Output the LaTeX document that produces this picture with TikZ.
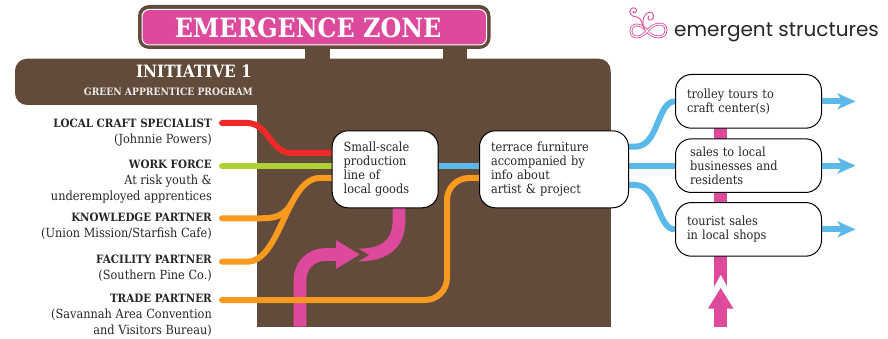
\documentclass[tikz,border=0pt]{standalone}
\usepackage{fontspec}
\setmainfont{DejaVu Serif Condensed}
\newfontfamily\logofont{Poppins}
\usetikzlibrary{positioning,calc,arrows.meta,backgrounds}
\definecolor{zonebrown}{HTML}{624B3A}
\definecolor{zonepink}{HTML}{DE4A9B}
\definecolor{zoneorange}{HTML}{F79A1D}
\definecolor{zonered}{HTML}{EE2A29}
\definecolor{zonegreen}{HTML}{AFD136}
\definecolor{zoneblue}{HTML}{5AB9E9}
\newcommand{\rolename}[1]{{\fontsize{11.5}{16}\bfseries\selectfont #1}}
\tikzset{
	role/.style={anchor=north east,align=right,inner sep=0pt,font=\fontsize{12.6}{16}\selectfont,text=black!85},
	stepbox/.style={draw=black,line width=1pt,fill=white,rounded corners=16pt,align=left,text=black!85,font=\fontsize{12.6}{14}\selectfont,inner xsep=#1,inner ysep=0pt,anchor=north west},
	feed/.style={line width=6pt,line cap=round},
	flow/.style={line width=6pt,zoneblue},
	bar/.style={line width=12.7pt,zonepink},
	exit/.style={flow,-{Stealth[length=18pt,width=16pt,inset=5pt]}},
	logoline/.style={zonepink,line width=.9pt}
}
\begin{document}
\begin{tikzpicture}[x=1pt,y=-1pt]
	\useasboundingbox (0,0) rectangle (888,339);
	% boxes
	\node[stepbox=11.5pt,text width=83pt,minimum height=77pt] (goods) at (331.7,130.3) {Small-scale\\production\\line of\\local goods};
	\node[stepbox=11.5pt,text width=126pt,minimum height=77pt] (furniture) at (479,130.3) {terrace furniture\\accompanied by\\info about\\artist \& project};
	\node[stepbox=11.5pt,text width=123pt,minimum height=53.7pt] (trolley) at (675,74) {trolley tours to\\craft center(s)};
	\node[stepbox=14.5pt,text width=117pt,minimum height=53.7pt] (sales) at (675,138.3) {sales to local\\businesses and\\residents};
	\node[stepbox=11.5pt,text width=123pt,minimum height=53.7pt] (tourist) at (675,202) {tourist sales\\in local shops};
	% labels
	\node[role] (craft) at (212,118.3) {\rolename{LOCAL CRAFT SPECIALIST}\\(Johnnie Powers)};
	\node[role] (work) at (212,159.3) {\rolename{WORK FORCE}\\At risk youth \&\\underemployed apprentices};
	\node[role] (knowledge) at (212,212.3) {\rolename{KNOWLEDGE PARTNER}\\(Union Mission/Starfish Cafe)};
	\node[role] (facility) at (212,254.3) {\rolename{FACILITY PARTNER}\\(Southern Pine Co.)};
	\node[role] (trade) at (212,294.3) {\rolename{TRADE PARTNER}\\(Savannah Area Convention\\and Visitors Bureau)};
	\node[text=white,font=\fontsize{26.5}{27}\bfseries\selectfont,inner sep=0pt] (zone) at (308,27.5) {EMERGENCE ZONE};
	\node[text=white,font=\fontsize{17}{17}\bfseries\selectfont,inner sep=0pt,anchor=north east] (initiative) at (252,65) {INITIATIVE 1};
	\node[text=white!92!black,font=\fontsize{10.2}{12}\bfseries\selectfont,inner sep=0pt,anchor=north east] (program) at (253,87.5) {GREEN APPRENTICE PROGRAM};
	\node[font=\logofont\fontsize{20}{20}\selectfont,inner sep=0pt,text=black!85,anchor=west] (logo) at (674,32) {emergent structures};
	% free ends
	\coordinate (craftend) at (222,123);
	\coordinate (workend) at (222,166);
	\coordinate (knowledgeend) at (222,218.3);
	\coordinate (facilityend) at (222,261.7);
	\coordinate (tradeend) at (222,300);
	\coordinate (riserfoot) at (300,326.7);
	\coordinate (risertip) at (360,254.5);
	\coordinate (draintail) at (358,255);
	\coordinate (spinefoot) at (720.7,326.7);
	\coordinate (spinetip) at (720.7,287.7);
	\coordinate (spinetail) at (720.7,286.5);
	\begin{pgfonlayer}{background}
		% sign and trunk
		\fill[zonebrown] (305,45) rectangle (330,62);
		\fill[zonebrown] (443,45) rectangle (467,62);
		\fill[zonebrown,rounded corners=12pt] (15,58.7) rectangle (610.7,105);
		\fill[zonebrown] (256.7,72) rectangle (610.7,326.7);
		\fill[zonebrown,rounded corners=11pt] (138,5) rectangle (490.5,49);
		\draw[fill=zonepink,draw=white,line width=1pt,rounded corners=7pt] (142,9.5) rectangle (486.5,45);
		% pink
		\draw[bar] (399,200) -- (399,220) .. controls (399,244) and (385,255) .. (draintail);
		\fill[zonebrown] (357,248) -- (369,255) -- (357,262) -- cycle;
		\draw[bar,rounded corners=25pt,-{Triangle[length=24pt,width=27pt]}] (riserfoot) -- (riserfoot|-risertip) -- (risertip);
		\draw[bar] (spinetail) -- (720.7,100);
		\fill[white] (714,287) -- (720.7,275) -- (727.4,287) -- cycle;
		\draw[bar,-{Triangle[length=21pt,width=24pt]}] (spinefoot) -- (spinetip);
		% feeds
		\draw[feed,zonered] (craftend) -- ++(25,0) .. controls +(22,0) and +(-22,0) .. (292,153) -- (goods.west|-292,153);
		\draw[feed,zonegreen] (workend) -- (goods.west|-workend);
		\draw[feed,zoneorange] (facilityend) -- ++(25,0) .. controls +(34,0) and +(-34,0) .. (320,178) -- (goods.west|-320,178);
		\draw[feed,zoneorange] (knowledgeend) -- ++(38,0) .. controls +(14,0) and +(-8.5,15.5) .. (292.5,201.6);
		\draw[feed,zoneorange,rounded corners=22pt] (tradeend) -- (447,300) -- (447,178) -- (furniture.west|-447,178);
		% flows
		\draw[flow] (goods.east|-workend) -- (furniture.west|-workend);
		\draw[flow] (furniture.east|-0,146.7) -- ++(6,0) .. controls +(24,0) and +(-18,0) .. (trolley.west);
		\draw[flow] (furniture.east|-sales.west) -- (sales.west);
		\draw[flow] (furniture.east|-0,185) -- ++(6,0) .. controls +(24,0) and +(-18,0) .. (tourist.west);
	\end{pgfonlayer}
	\draw[exit] (trolley.east) -- ++(33.5,0);
	\draw[exit] (sales.east) -- ++(33.5,0);
	\draw[exit] (tourist.east) -- ++(33.5,0);
	% logo mark
	\draw[logoline,double=white,double distance=1.2pt,line width=.8pt] (647,31) .. controls (641,23) and (631,23) .. (631,31) .. controls (631,39) and (641,39) .. (647,31) .. controls (653,23) and (666,21) .. (666,30) .. controls (666,39) and (653,39) .. (647,31);
	\draw[logoline] (645,29) .. controls (641,24) and (642,18) .. (637,17) .. controls (631,17) and (628,12) .. (631,9) .. controls (634,6) and (638,9) .. (636,12) .. controls (635,14) and (632,13) .. (633,11);
	\draw[logoline] (644,28) .. controls (641,20) and (645,12) .. (650,12) .. controls (654,12) and (655,19) .. (651,20) .. controls (648,21) and (647,17) .. (649,16);
\end{tikzpicture}
\end{document}
